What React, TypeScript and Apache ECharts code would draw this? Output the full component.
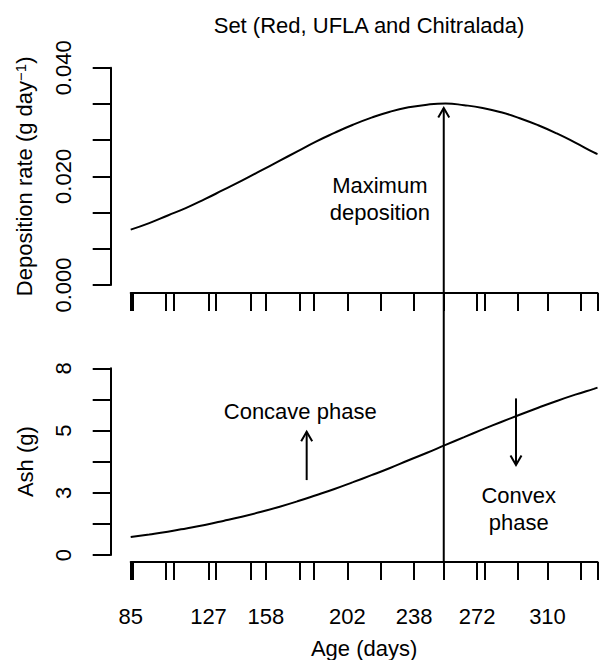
import React, { useEffect, useRef } from "react";
import * as echarts from "echarts";

const chartTitle = "Set (Red, UFLA and Chitralada)";
const days = [85, 95, 105, 115, 125, 135, 145, 155, 165, 175, 185, 195, 205, 215, 225, 235, 245, 255, 265, 275, 285, 295, 305, 315, 325, 335, 337];
const depositionRate = [0.0102, 0.0114, 0.0128, 0.0142, 0.0158, 0.0175, 0.0192, 0.021, 0.0228, 0.0246, 0.0264, 0.028, 0.0295, 0.0308, 0.0319, 0.0327, 0.0332, 0.0334, 0.0331, 0.0326, 0.0318, 0.0307, 0.0294, 0.0279, 0.0262, 0.0244, 0.0241];
const ashValues = [0.77, 0.88, 1.0, 1.14, 1.29, 1.46, 1.64, 1.84, 2.06, 2.3, 2.56, 2.83, 3.12, 3.42, 3.73, 4.06, 4.38, 4.72, 5.05, 5.38, 5.7, 6.01, 6.31, 6.6, 6.87, 7.12, 7.17];
const sampleDays = [85, 86, 104, 108, 127, 131, 150, 158, 176, 184, 202, 220, 238, 254, 272, 276, 294, 310, 328, 337];
const ageLabels = [85, 127, 158, 202, 238, 272, 310];
const rateTicks = [0, 0.00667, 0.01333, 0.02, 0.02667, 0.03333, 0.04];
const rateLabels = [0, 0.02, 0.04];
const ashTicks = [0, 1.333, 2.667, 4, 5.333, 6.667, 8];
const ashLabels = [0, 2.667, 5.333, 8];
const peakDay = 254;
const peakArrowTip = 0.0326;
// [day, from, to]
const phaseArrows = [
  [180, 3.21, 5.28],
  [293, 6.71, 3.86],
];
// [text, day, value, gridIndex]
const notes: [string, number, number, number][] = [
  ["Maximum\ndeposition", 219.5, 0.0159, 0],
  ["Concave phase", 176.5, 6.13, 1],
  ["Convex\nphase", 294.5, 1.97, 1],
];

const FONT = "Liberation Sans, Arial, Helvetica, sans-serif";
const FS = 22;
const BOTTOM_AXIS_OFFSET = 7;

function arrowHead(tx: number, ty: number, dir: number) {
  // dir = -1 for pointing up, +1 for pointing down
  return {
    type: "polyline",
    shape: { points: [[tx - 5.5, ty - dir * 9.5], [tx, ty], [tx + 5.5, ty - dir * 9.5]] },
    style: { stroke: "#000", lineWidth: 2, fill: null },
  };
}

export default function App() {
  const ref = useRef<HTMLDivElement>(null);
  useEffect(() => {
    document.body.style.margin = "0";
    const chart = echarts.init(ref.current!, null, { renderer: "svg" });
    const axisLineStyle = { color: "#000", width: 2 };
    const xCommon = {
      type: "value",
      min: 85,
      max: 337,
      splitLine: { show: false },
      axisLine: { show: true, onZero: false, lineStyle: axisLineStyle },
      axisTick: { show: true, length: 18, customValues: sampleDays, lineStyle: { color: "#000", width: 2 } },
    };
    const yCommon = {
      type: "value",
      position: "left",
      offset: 20,
      splitLine: { show: false },
      axisLine: { show: true, lineStyle: axisLineStyle },
      nameLocation: "middle",
      nameRotate: 90,
      nameTextStyle: { fontSize: FS, fontFamily: FONT, color: "#000" },
    };
    chart.setOption({
      animation: false,
      backgroundColor: "#fff",
      title: {
        text: chartTitle,
        left: 364,
        top: 9,
        textAlign: "center",
        textStyle: { fontSize: FS, fontFamily: FONT, color: "#000", fontWeight: "normal" },
      },
      grid: [
        { left: 130.7, right: 2.5, top: 67.7, height: 217.3 },
        { left: 130.7, right: 2.5, top: 368.3, height: 186.7 },
      ],
      xAxis: [
        { ...xCommon, gridIndex: 0, offset: 8, axisLabel: { show: false } },
        {
          ...xCommon,
          gridIndex: 1,
          offset: BOTTOM_AXIS_OFFSET,
          axisLabel: {
            show: true,
            customValues: ageLabels,
            fontSize: FS,
            fontFamily: FONT,
            color: "#000",
            margin: 43,
          },
          name: "Age (days)",
          nameLocation: "middle",
          nameGap: 75,
          nameTextStyle: { fontSize: FS, fontFamily: FONT, color: "#000" },
        },
      ],
      yAxis: [
        {
          ...yCommon,
          gridIndex: 0,
          min: 0,
          max: 0.04,
          axisTick: { show: true, length: 18, customValues: rateTicks, lineStyle: { color: "#000", width: 2 } },
          axisLabel: {
            customValues: rateLabels,
            rotate: 90,
            fontSize: FS,
            fontFamily: FONT,
            color: "#000",
            margin: 36,
            formatter: (v: number) => v.toFixed(3),
          },
          name: "{a|Deposition rate (g day}{s|−1}{a|)}",
          nameGap: 74,
          nameTextStyle: {
            fontSize: FS,
            fontFamily: FONT,
            color: "#000",
            rich: {
              a: { fontSize: FS, fontFamily: FONT, color: "#000", lineHeight: 24 },
              s: { fontSize: 15, fontFamily: FONT, color: "#000", verticalAlign: "top", lineHeight: 15 },
            },
          },
        },
        {
          ...yCommon,
          gridIndex: 1,
          min: 0,
          max: 8,
          axisTick: { show: true, length: 18, customValues: ashTicks, lineStyle: { color: "#000", width: 2 } },
          axisLabel: {
            customValues: ashLabels,
            rotate: 90,
            fontSize: FS,
            fontFamily: FONT,
            color: "#000",
            margin: 36,
            formatter: (v: number) => String(Math.round(v)),
          },
          name: "Ash (g)",
          nameGap: 74,
        },
      ],
      series: [
        {
          type: "line",
          xAxisIndex: 0,
          yAxisIndex: 0,
          data: days.map((d, i) => [d, depositionRate[i]]),
          smooth: true,
          showSymbol: false,
          lineStyle: { color: "#000", width: 2 },
        },
        {
          type: "line",
          xAxisIndex: 1,
          yAxisIndex: 1,
          data: days.map((d, i) => [d, ashValues[i]]),
          smooth: true,
          showSymbol: false,
          lineStyle: { color: "#000", width: 2 },
        },
        {
          type: "custom",
          xAxisIndex: 1,
          yAxisIndex: 1,
          data: phaseArrows,
          encode: { x: 0, y: [1, 2] },
          renderItem: (params: any, api: any) => {
            const x = api.value(0);
            const p1 = api.coord([x, api.value(1)]);
            const p2 = api.coord([x, api.value(2)]);
            const dir = p2[1] > p1[1] ? 1 : -1;
            return {
              type: "group",
              children: [
                { type: "line", shape: { x1: p1[0], y1: p1[1], x2: p2[0], y2: p2[1] }, style: { stroke: "#000", lineWidth: 2 } },
                arrowHead(p2[0], p2[1], dir),
              ],
            };
          },
        },
      ],
    });

    const tip = chart.convertToPixel({ gridIndex: 0 }, [peakDay, peakArrowTip]) as number[];
    const base = chart.convertToPixel({ gridIndex: 1 }, [peakDay, 0]) as number[];
    const graphics: any[] = [
      { type: "line", shape: { x1: tip[0], y1: tip[1], x2: tip[0], y2: base[1] + BOTTOM_AXIS_OFFSET }, style: { stroke: "#000", lineWidth: 2 } },
      arrowHead(tip[0], tip[1], -1),
    ];
    notes.forEach(([text, d, v, g]) => {
      const p = chart.convertToPixel({ gridIndex: g }, [d, v]) as number[];
      graphics.push({
        type: "text",
        x: p[0],
        y: p[1],
        style: {
          text,
          fontSize: FS,
          fontFamily: FONT,
          fill: "#000",
          align: "center",
          verticalAlign: "middle",
          lineHeight: 27,
        },
      });
    });
    chart.setOption({ graphic: graphics });
    return () => chart.dispose();
  }, []);
  return <div ref={ref} style={{ width: 600, height: 660 }} />;
}
